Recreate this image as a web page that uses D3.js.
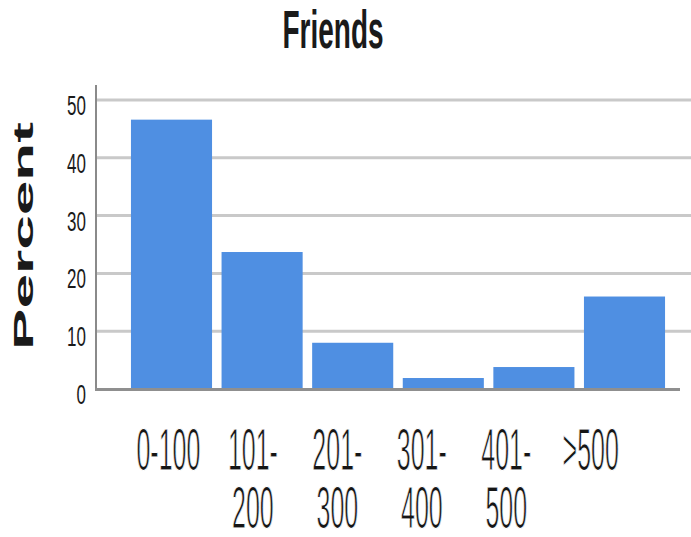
<!DOCTYPE html>
<html>
<head>
<meta charset="utf-8">
<script src="https://cdn.jsdelivr.net/npm/d3@7"></script>
<style>
  html, body { margin: 0; padding: 0; background: #fff; }
  svg { display: block; }
  text { font-family: "Liberation Sans", Arial, sans-serif; fill: #1a1a1a; }
  .cat { fill: #151515; stroke: #fff; stroke-width: 0.45px; }
</style>
</head>
<body>
<svg id="chart" width="691" height="537"></svg>
<script>
// Share of respondents by number of friends
const categories = ["0-100", "101-200", "201-300", "301-400", "401-500", ">500"];
const labelLines = [["0-100"], ["101-", "200"], ["201-", "300"], ["301-", "400"], ["401-", "500"], [">500"]];
const percents = [46.6, 23.7, 8.0, 1.9, 3.8, 16.0];
const yTicks = [0, 10, 20, 30, 40, 50];

const svg = d3.select("#chart");

const y = d3.scaleLinear().domain([0, 50]).range([389, 100]);
const x = d3.scaleBand().domain(categories).range([126.2, 669.8])
  .paddingInner(0.105).paddingOuter(0.0525);
// category labels sit on their own, slightly tighter spacing
const xLab = d3.scaleBand().domain(categories).range([126.2, 633]);

const axisLeftX = 96;

// horizontal gridlines
svg.append("g").selectAll("line").data(yTicks.filter(d => d > 0)).join("line")
  .attr("x1", axisLeftX).attr("x2", 691)
  .attr("y1", d => y(d)).attr("y2", d => y(d))
  .attr("stroke", "#c9c9c9").attr("stroke-width", 3);

// bars
svg.append("g").selectAll("rect").data(percents).join("rect")
  .attr("x", (d, i) => x(categories[i]))
  .attr("width", x.bandwidth())
  .attr("y", d => y(d))
  .attr("height", d => y(0) - y(d))
  .attr("fill", "#4f8fe2");

// y axis line
svg.append("line")
  .attr("x1", axisLeftX).attr("x2", axisLeftX)
  .attr("y1", 85).attr("y2", y(0) + 1)
  .attr("stroke", "#8a8a8a").attr("stroke-width", 2);

// baseline
svg.append("line")
  .attr("x1", axisLeftX - 1).attr("x2", 680)
  .attr("y1", y(0) + 0.5).attr("y2", y(0) + 0.5)
  .attr("stroke", "#8f8f8f").attr("stroke-width", 3);

// y tick labels (condensed tall digits)
svg.append("g").selectAll("text").data(yTicks).join("text")
  .attr("transform", d => `translate(86,${y(d) + 15}) scale(1,1.64)`)
  .attr("text-anchor", "end")
  .attr("font-size", 17)
  .text(d => d);

// x category labels, wrapped onto two lines inside one text element;
// glyphs are drawn tall and narrow, with a thin white outline to keep
// the stretched horizontals light.
const catSize = 25;
const sy = 2.4;
const lineGap = 58 / sy;

svg.append("g").selectAll("text").data(labelLines).join("text")
  .attr("class", "cat")
  .attr("transform", (lines, i) =>
    `translate(${xLab(categories[i]) + xLab.bandwidth() / 2},470) scale(1,${sy})`)
  .attr("text-anchor", "middle")
  .attr("font-size", catSize)
  .each(function (lines) {
    d3.select(this).selectAll("tspan").data(lines).join("tspan")
      .attr("x", 0)
      .attr("y", (t, j) => j * lineGap)
      .text(t => t);
  });

// title
svg.append("text")
  .attr("transform", "translate(333,48) scale(1,1.9)")
  .attr("text-anchor", "middle")
  .attr("font-size", 28)
  .attr("font-weight", "bold")
  .text("Friends");

// y axis title
svg.append("text")
  .attr("transform", "translate(33,236) rotate(-90) scale(2.22,1)")
  .attr("text-anchor", "middle")
  .attr("font-size", 28)
  .attr("font-weight", "bold")
  .text("Percent");
</script>
</body>
</html>
